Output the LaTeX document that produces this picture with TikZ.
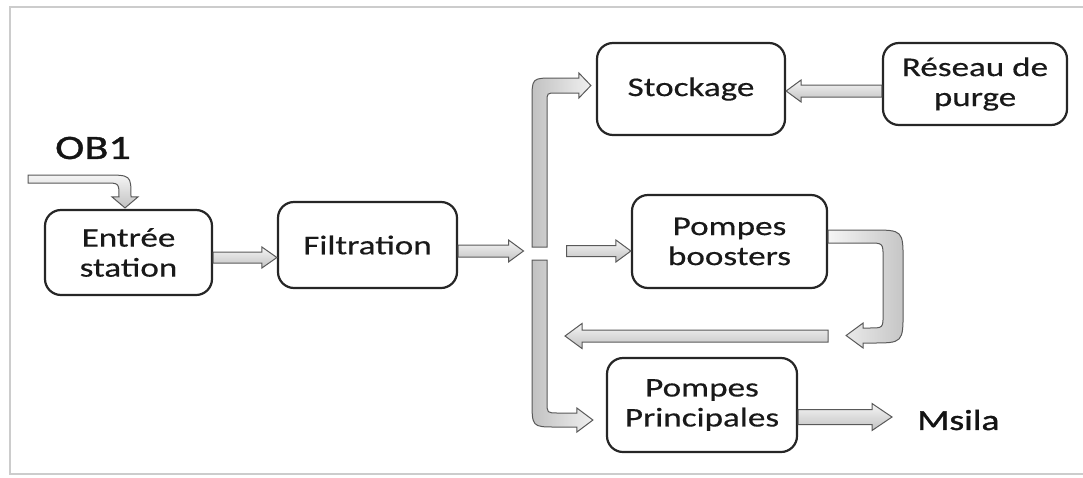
\documentclass[tikz,border=0pt]{standalone}
\usepackage{fontspec}
\setmainfont{Carlito}[FakeStretch=1.3,FakeBold=0.4]
\newfontfamily\heavyfont{Carlito}[FakeStretch=1.3,FakeBold=1.2]
\usetikzlibrary{calc}

\tikzset{
  box/.style={draw=black!85, line width=2.2pt, rounded corners=16pt, fill=white,
    align=center, text=black!90, font=\fontsize{27}{30}\selectfont, inner sep=0pt},
  blk/.style={draw=black!65, line width=1pt, top color=gray!8, bottom color=gray!48},
  vblk/.style={draw=black!65, line width=1pt, left color=gray!48, right color=gray!12},
  lblk/.style={draw=black!65, line width=1pt, left color=gray!8, right color=gray!45},
  lbl/.style={text=black!92, inner sep=0pt},
}

% straight horizontal block arrow: #1 start, #2 tip (x only), #3 half band,
% #4 half head, #5 signed head length
\newcommand\hblk[5]{%
  \path[blk] let \p1=(#1), \p2=(#2) in
    (\x1,{\y1+#3}) -- ({\x2-(#5)},{\y1+#3}) -- ({\x2-(#5)},{\y1+#4}) -- (\x2,\y1)
    -- ({\x2-(#5)},{\y1-#4}) -- ({\x2-(#5)},{\y1-#3}) -- (\x1,{\y1-#3}) -- cycle;}

\begin{document}
\begin{tikzpicture}[x=1pt,y=-1pt]
\useasboundingbox (0,0) rectangle (1083,477);

% page frame
\draw[gray!40, line width=2pt] (1083,7) -- (10,7) -- (10,474) -- (1083,474);

% process blocks
\node[box, minimum width=167pt, minimum height=85pt] (ent) at (128.5,252.5) {Entrée\\station};
\node[box, minimum width=179pt, minimum height=86pt] (fil) at (367.5,245) {Filtration};
\node[box, minimum width=188pt, minimum height=92pt] (sto) at (691,89) {Stockage};
\node[box, minimum width=184pt, minimum height=82pt] (res) at (975,84) {Réseau de\\purge};
\node[box, minimum width=195pt, minimum height=93pt] (boo) at (729.5,241.5) {Pompes\\boosters};
\node[box, minimum width=190pt, minimum height=94pt] (pri) at (702,405) {Pompes\\Principales};

% terminal labels
\node[lbl, font=\heavyfont\fontsize{34}{36}\selectfont] (ob1) at (93,148) {OB1};
\node[lbl, font=\heavyfont\fontsize{29}{32}\selectfont, anchor=west] (msila) at (917,420) {Msila};

% free ends
\coordinate (ob1in) at (28,179);
\coordinate (j) at (539.5,251);
\coordinate (back) at (565,336);

% inlet OB1 -> Entree station
\path[blk] let \p1=(ob1in), \p2=(ent.north) in
  (\x1,\y1+4pt) -- (\x2-23.5pt,\y1+4pt)
  .. controls (\x2+2.5pt,\y1+4pt) .. (\x2+2.5pt,\y2+12pt)
  -- (\x2+9.5pt,\y2+12pt) -- (\x2-3.5pt,\y2+1pt) -- (\x2-16.5pt,\y2+12pt)
  -- (\x2-9.5pt,\y2+12pt)
  .. controls (\x2-9.5pt,\y1-4pt) .. (\x2-23.5pt,\y1-4pt)
  -- (\x1,\y1-4pt) -- cycle;

% straight connectors
\hblk{$(ent.east)+(0,5)$}{fil.west}{5.5pt}{10.5pt}{15pt}
\hblk{$(fil.east)+(0,6)$}{$(j)+(-16,0)$}{6pt}{11pt}{15pt}
\hblk{$(j)+(27,0)$}{boo.west}{5.5pt}{11pt}{15pt}
\hblk{$(res.west)+(0,7)$}{sto.east}{6pt}{11pt}{-15pt}
\hblk{$(pri.east)+(0,12)$}{$(msila.west)+(-25,0)$}{7.5pt}{13.5pt}{20pt}
\hblk{$(boo.east)+(0,94.5)$}{back}{6pt}{12.5pt}{-17pt}

% branch up to Stockage
\path[vblk] let \p1=(j), \p2=(sto.west) in
  (\x1-7.5pt,\y1+4pt) -- (\x1-7.5pt,\y2-11pt)
  .. controls (\x1-7.5pt,\y2+11pt) .. (\x1+14.5pt,\y2+11pt)
  -- (\x2-17pt,\y2+11pt) -- (\x2-17pt,\y2+16pt) -- (\x2-5pt,\y2+3.5pt)
  -- (\x2-17pt,\y2-9pt) -- (\x2-17pt,\y2-4pt) -- (\x1+16.5pt,\y2-4pt)
  .. controls (\x1+7.5pt,\y2-4pt) .. (\x1+7.5pt,\y2-13pt)
  -- (\x1+7.5pt,\y1+4pt) -- cycle;

% branch down to Pompes Principales
\path[vblk] let \p1=(j), \p2=(pri.west) in
  (\x1-7.5pt,\y1-9pt) -- (\x1-7.5pt,\y2+5pt)
  .. controls (\x1-7.5pt,\y2-22pt) .. (\x1+16.5pt,\y2-22pt)
  -- (\x2-29pt,\y2-22pt) -- (\x2-29pt,\y2-27pt) -- (\x2-13pt,\y2-15pt)
  -- (\x2-29pt,\y2-3pt) -- (\x2-29pt,\y2-8pt) -- (\x1+18.5pt,\y2-8pt)
  .. controls (\x1+7.5pt,\y2-8pt) .. (\x1+7.5pt,\y2+3pt)
  -- (\x1+7.5pt,\y1-9pt) -- cycle;

% booster return loop
\path[lblk] let \p1=(boo.east) in
  (\x1,\y1+11.5pt) -- (\x1+43pt,\y1+11.5pt)
  .. controls (\x1+75pt,\y1+11.5pt) .. (\x1+75pt,\y1-20.5pt)
  -- (\x1+75pt,\y1-68.5pt)
  .. controls (\x1+75pt,\y1-101.5pt) .. (\x1+43pt,\y1-101.5pt)
  -- (\x1+35pt,\y1-101.5pt) -- (\x1+35pt,\y1-106.5pt) -- (\x1+18pt,\y1-94pt)
  -- (\x1+35pt,\y1-81.5pt) -- (\x1+35pt,\y1-86.5pt) -- (\x1+41pt,\y1-86.5pt)
  .. controls (\x1+55pt,\y1-86.5pt) .. (\x1+55pt,\y1-72.5pt)
  -- (\x1+55pt,\y1-16.5pt)
  .. controls (\x1+55pt,\y1-1.5pt) .. (\x1+40pt,\y1-1.5pt)
  -- (\x1,\y1-1.5pt) -- cycle;

\end{tikzpicture}
\end{document}
